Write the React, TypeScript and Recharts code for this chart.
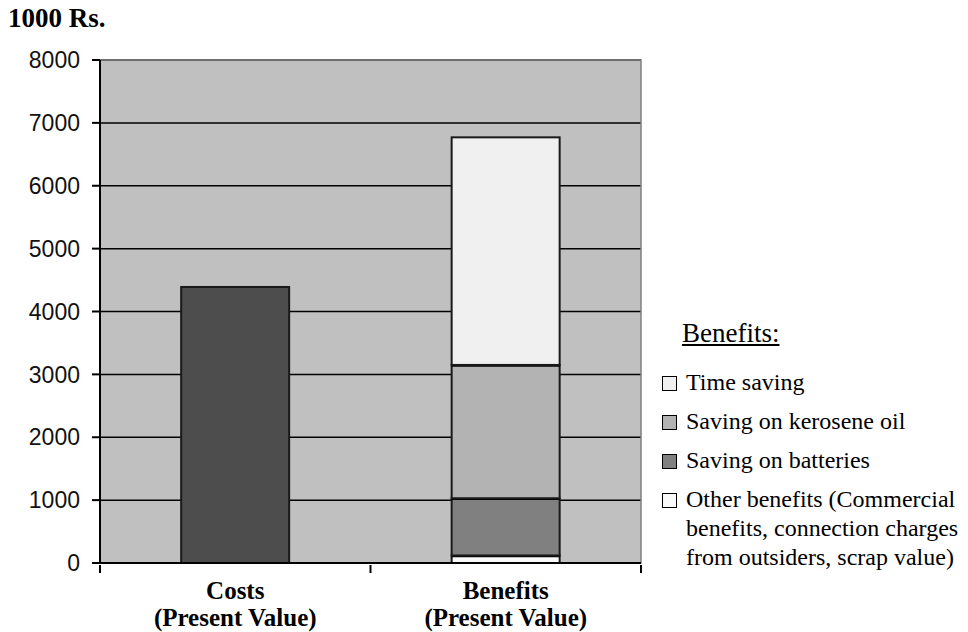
import React from "react";
import {
  BarChart,
  Bar,
  XAxis,
  YAxis,
  CartesianGrid,
  ReferenceArea,
  Legend,
} from "recharts";

const categories = ["Costs", "Benefits"];
const categoryNotes = ["(Present Value)", "(Present Value)"];

// values in 1000 Rs.
const costValues = [4390, null];
const otherBenefits = [null, 120];
const batterySavings = [null, 910];
const keroseneSavings = [null, 2120];
const timeSavings = [null, 3620];

const yTicks = [0, 1000, 2000, 3000, 4000, 5000, 6000, 7000, 8000];

const data = categories.map((name, i) => ({
  name,
  note: categoryNotes[i],
  costs: costValues[i],
  other: otherBenefits[i],
  batteries: batterySavings[i],
  kerosene: keroseneSavings[i],
  time: timeSavings[i],
}));

// stacked bottom-up
const benefitSeries = [
  {
    key: "other",
    name: "Other benefits (Commercial\nbenefits, connection charges\nfrom outsiders, scrap value)",
    fill: "#fafafa",
    capped: true,
  },
  { key: "batteries", name: "Saving on batteries", fill: "#808080", capped: true },
  { key: "kerosene", name: "Saving on kerosene oil", fill: "#b3b3b3", capped: true },
  { key: "time", name: "Time saving", fill: "#f0f0f0", capped: false },
];

const serif = "Liberation Serif";
const sans = "Liberation Sans";

// segment with a heavier rule on top where another segment sits on it
const Segment = (props: any) => {
  const { x, y, width, height, fill, capped } = props;
  if (!height) return null;
  return (
    <g>
      <rect x={x} y={y} width={width} height={height} fill={fill} stroke="#1a1a1a" strokeWidth={2} />
      {capped && <line x1={x} x2={x + width} y1={y} y2={y} stroke="#000" strokeWidth={3.5} />}
    </g>
  );
};

const CategoryTick = (props: any) => {
  const { x, y, payload, index, visibleTicksCount } = props;
  const half = payload.offset || 0;
  const row = data[index];
  const isLast = index === visibleTicksCount - 1;
  return (
    <g>
      <line x1={x - half} x2={x - half} y1={y} y2={y + 8} stroke="#000" strokeWidth={2} />
      {isLast && (
        <line x1={x + half} x2={x + half} y1={y} y2={y + 8} stroke="#000" strokeWidth={2} />
      )}
      <text
        x={x}
        y={y}
        textAnchor="middle"
        fontFamily={serif}
        fontWeight="bold"
        fontSize={25}
        fill="#000"
      >
        <tspan x={x} dy={34}>
          {payload.value}
        </tspan>
        <tspan x={x} dy={27}>
          {row ? row.note : ""}
        </tspan>
      </text>
    </g>
  );
};

const BenefitsLegend = ({ payload }: any) => {
  const items = (payload || []).filter((p: any) => p.dataKey !== "costs").reverse();
  return (
    <div style={{ fontFamily: serif, color: "#000" }}>
      <div
        style={{
          fontFamily: serif,
          fontSize: 27,
          textDecoration: "underline",
          marginLeft: 20,
          marginBottom: 20,
          lineHeight: "30px",
        }}
      >
        Benefits:
      </div>
      {items.map((item: any) => (
        <div
          key={item.dataKey}
          style={{ display: "flex", alignItems: "flex-start", marginBottom: 10 }}
        >
          <span
            style={{
              display: "inline-block",
              width: 13,
              height: 13,
              marginTop: 8,
              marginRight: 9,
              background: item.color,
              border: "1px solid #000",
              flexShrink: 0,
            }}
          />
          <span
            style={{
              fontFamily: serif,
              fontSize: 24,
              lineHeight: "29px",
              whiteSpace: "pre-line",
            }}
          >
            {item.value}
          </span>
        </div>
      ))}
    </div>
  );
};

export default function App() {
  return (
    <div style={{ position: "absolute", left: 0, top: 0, width: 968, height: 632, background: "#fff" }}>
      <div
        style={{
          position: "absolute",
          left: 8,
          top: 3,
          fontFamily: serif,
          fontWeight: "bold",
          fontSize: 27,
          zIndex: 2,
        }}
      >
        1000 Rs.
      </div>
      <BarChart
        width={968}
        height={632}
        data={data}
        margin={{ top: 60, right: 327, bottom: 0, left: 0 }}
        barCategoryGap="30%"
      >
        <CartesianGrid vertical={false} stroke="#000" strokeWidth={1.5} fill="#c0c0c0" />
        <ReferenceArea y1={0} y2={8000} fill="none" stroke="#808080" strokeWidth={1.5} />
        <XAxis
          dataKey="name"
          height={69}
          axisLine={{ stroke: "#000", strokeWidth: 2 }}
          tickLine={false}
          tickSize={0}
          tick={<CategoryTick />}
          interval={0}
        />
        <YAxis
          width={100}
          domain={[0, 8000]}
          ticks={yTicks}
          interval={0}
          axisLine={{ stroke: "#000", strokeWidth: 2 }}
          tickLine={{ stroke: "#000", strokeWidth: 2 }}
          tickSize={8}
          tickMargin={12}
          tick={{ fontFamily: sans, fontSize: 23, fill: "#111" }}
        />
        <Legend
          layout="vertical"
          align="center"
          verticalAlign="middle"
          wrapperStyle={{ left: 662, top: 318, width: 300 }}
          content={<BenefitsLegend />}
        />
        <Bar
          dataKey="costs"
          name="Costs"
          stackId="a"
          fill="#4d4d4d"
          shape={<Segment capped={false} />}
          legendType="none"
          isAnimationActive={false}
        />
        {benefitSeries.map((s) => (
          <Bar
            key={s.key}
            dataKey={s.key}
            name={s.name}
            stackId="a"
            fill={s.fill}
            shape={<Segment capped={s.capped} />}
            isAnimationActive={false}
          />
        ))}
      </BarChart>
    </div>
  );
}
